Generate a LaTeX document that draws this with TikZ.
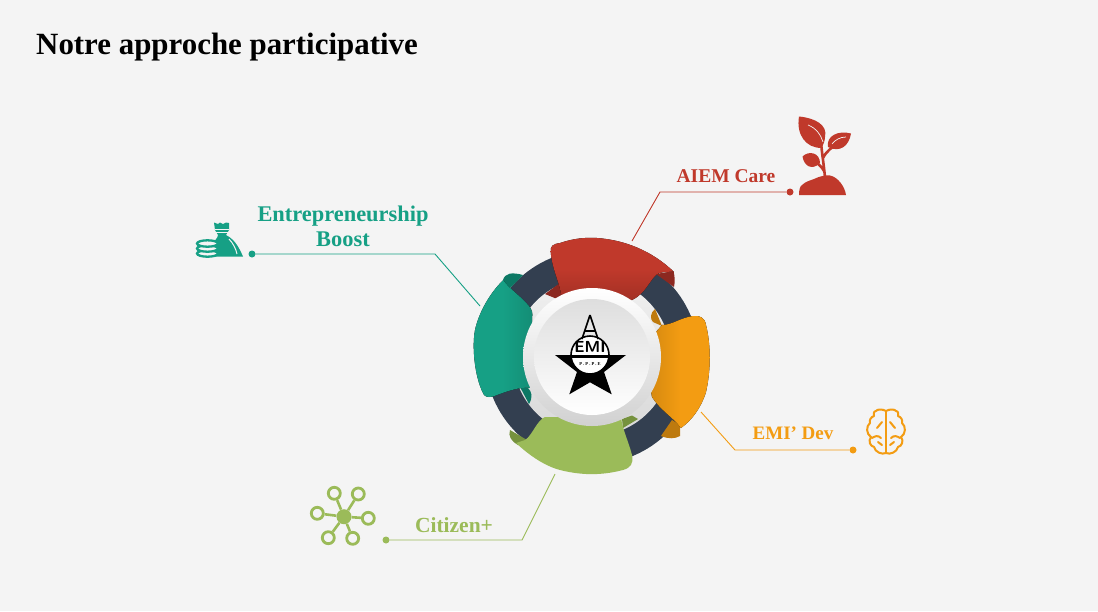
\documentclass[tikz,border=0pt]{standalone}
\usepackage{fontspec}
\setmainfont{Liberation Serif}
\usetikzlibrary{positioning,calc}
\definecolor{pagegray}{RGB}{244,244,244}
\definecolor{ringdark}{RGB}{51,63,80}
\definecolor{redmain}{RGB}{192,57,43}
\definecolor{reddark}{RGB}{140,40,32}
\definecolor{orangemain}{RGB}{243,156,18}
\definecolor{orangedark}{RGB}{190,122,14}
\definecolor{greenmain}{RGB}{155,187,89}
\definecolor{greendark}{RGB}{118,146,62}
\definecolor{tealmain}{RGB}{22,160,133}
\definecolor{tealdark}{RGB}{12,120,100}
\tikzset{
  lab/.style   = {font=\bfseries\fontsize{#1}{25}\selectfont, align=center, inner sep=0pt},
  dot/.style   = {circle, fill, minimum size=7pt, inner sep=0pt},
  lead/.style  = {line width=0.9pt},
  disc/.style  = {circle, inner sep=0pt}
}
\begin{document}
\begin{tikzpicture}[x=1pt, y=-1pt]
\useasboundingbox[fill=pagegray] (0,0) rectangle (1098,611);

\node[anchor=west, inner sep=0pt, font=\bfseries\fontsize{30.9}{36}\selectfont] (title) at (36,47) {Notre approche participative};

% --- anneau --------------------------------------------------------
\draw[ringdark, line width=29pt] (592,357) circle (92.5);
\node[disc, minimum size=158pt, top color=gray!12, bottom color=gray!30] (ringdisc) at (592,357) {};

% --- rubans ---------------------------------------------------------
% rouge
\fill[reddark] (545,294) -- (560,283) -- (562,301) -- cycle;
\fill[reddark] (656,274) -- (673.5,271) .. controls (675,277) and (675,282) .. (674,287) -- cycle;
\fill[top color=redmain, bottom color=redmain!85!black, middle color=redmain]
  (550.7,252) .. controls (550,246) and (553,244) .. (560,243)
  .. controls (575,238) and (585,237.5) .. (597,238)
  .. controls (625,240) and (652,251) .. (673.5,271.5)
  .. controls (665,272) and (660,272) .. (656.7,274.3)
  .. controls (650,280) and (645,294) .. (632,300) -- (562,300)
  .. controls (561,285) and (552,270) .. (550.7,252) -- cycle;
% orange
\fill[orangedark] (655,309) .. controls (650,313) and (650,319) .. (653,322) -- (662,326) -- cycle;
\fill[orangedark] (672,420) -- (680,425) .. controls (680,430) and (680,434) .. (680,436)
  .. controls (675,439) and (668,439) .. (661,436) -- cycle;
\fill[left color=orangemain!88!black, right color=orangemain, middle color=orangemain]
  (652,340) -- (656,332) -- (662,325) .. controls (672,325) and (680,318) .. (693,316)
  .. controls (700,315) and (705,318) .. (706,325)
  .. controls (711,345) and (711,370) .. (706,392)
  .. controls (701,408) and (692,420) .. (681,428)
  .. controls (674,418) and (660,410) .. (652,397)
  .. controls (650,390) and (652,385) .. (652,380) -- cycle;
% vert
\fill[greendark] (510,430) .. controls (508,436) and (511,441) .. (518,445) -- (527,440) -- cycle;
\fill[greendark] (622,419) -- (632,415.5) -- (638,419) -- (623,428) -- cycle;
\fill[greenmain]
  (516,443) -- (525,440) .. controls (532,436) and (537,420) .. (545,417) -- (621,417)
  .. controls (622,428) and (629,443) .. (632,455)
  .. controls (634,464) and (630,468) .. (623,470)
  .. controls (600,476) and (580,475) .. (560,470)
  .. controls (545,466) and (530,456) .. (516,443) -- cycle;
% turquoise
\fill[tealdark] (503,280) .. controls (505,273) and (512,272) .. (523,275) -- (508,290) -- cycle;
\fill[tealdark] (520,387) -- (528,388) .. controls (532,392) and (533,397) .. (529,404) -- cycle;
\fill[left color=tealmain, right color=tealmain!88!black, middle color=tealmain]
  (503.3,280) .. controls (507,287) and (522,297) .. (529,306)
  .. controls (532,310) and (533,313) .. (532,318) -- (532,388)
  .. controls (520,386) and (505,392) .. (493,396.5)
  .. controls (487,398) and (484,396) .. (483,393)
  .. controls (474,375) and (472,345) .. (475,330)
  .. controls (479,312) and (490,293) .. (503.3,280) -- cycle;

% --- disque central -------------------------------------------------
\node[disc, minimum size=138pt, top color=white, bottom color=white!82!black] (whitedisc) at (592,357) {};
\node[disc, minimum size=116pt, top color=black!13, bottom color=white] (innerdisc) at (592,357) {};

% --- logo -----------------------------------------------------------
\fill[black] (555,355) -- (626,355) -- (604,372) -- (611.7,394.3) -- (590,382.3) -- (569.3,394.3) -- (577,372) -- cycle;
\draw[black, line width=1.6pt, fill=white] (590,355) circle (19);
\fill[black] (571,355) rectangle (609,358);
\draw[black, line width=1.6pt] (590,315) -- (582,339) (590,315) -- (598,339) (585,331) -- (595,331);
\node[inner sep=0pt, font=\bfseries\sffamily\fontsize{16}{16}\selectfont] (logoname) at (590,347) {EMI};
\node[inner sep=0pt, font=\bfseries\fontsize{4.5}{5}\selectfont] (logosub) at (590,364) {P . P . P . E};

% --- legendes -------------------------------------------------------
\node[lab=19.5, text=redmain] (carelab) at (726,176) {AIEM Care};
\node[dot, fill=redmain] (caredot) at (790,192) {};
\coordinate (careend) at (632,241);
\draw[lead, redmain] (caredot) -- (660,192) -- (careend);

\node[lab=22.4, text=tealmain] (boostlab) at (343,226) {Entrepreneurship\\Boost};
\node[dot, fill=tealmain] (boostdot) at (252,254) {};
\coordinate (boostend) at (480,306);
\draw[lead, tealmain] (boostdot) -- (435,254) -- (boostend);

\node[lab=19, text=orangemain] (devlab) at (793,433) {EMI’ Dev};
\node[dot, fill=orangemain] (devdot) at (853,450) {};
\coordinate (devend) at (701,412);
\draw[lead, orangemain] (devdot) -- (735,450) -- (devend);

\node[lab=21.5, text=greenmain] (citlab) at (454,525) {Citizen+};
\node[dot, fill=greenmain] (citdot) at (386,540) {};
\coordinate (citend) at (555,474);
\draw[lead, greenmain] (citdot) -- (522,540) -- (citend);

% --- plante ---------------------------------------------------------
\fill[redmain] (799,116.5) .. controls (815,118) and (828,125) .. (825,137)
  .. controls (825,141) and (823,145) .. (821.5,148) .. controls (806,148) and (796,135) .. (799,116.5) -- cycle;
\fill[redmain] (851,133.5) .. controls (838,130) and (826,136) .. (828,147)
  .. controls (840,153) and (849,146) .. (851,133.5) -- cycle;
\fill[redmain] (802.5,156.5) .. controls (809,150) and (820,153) .. (820,163)
  .. controls (812,171) and (804,166) .. (802.5,156.5) -- cycle;
\draw[pagegray, line width=0.7pt] (808,125) .. controls (816,128) and (821,135) .. (823,142)
  (846,137) .. controls (840,137) and (835,140) .. (832,144);
\draw[redmain, line width=2.6pt] (821,142) .. controls (822,155) and (824,165) .. (825,178)
  (838,143) .. controls (833,147) and (827,150) .. (823,158)
  (808,159) .. controls (815,161) and (820,164) .. (824,171);
\fill[redmain] (799,195) .. controls (799,190) and (800,186) .. (802,185)
  .. controls (806,181) and (812,180) .. (814,179)
  .. controls (820,176) and (826,175) .. (830,175.5)
  .. controls (838,177) and (845,187) .. (846,195) -- cycle;

% --- sac ------------------------------------------------------------
\fill[tealmain] (214,222.5) -- (218,224) -- (220,222.5) -- (223,224) -- (226,222.5) -- (229,223) -- (229,230) -- (226,235)
  .. controls (236,240) and (240,250) .. (243,256.5) -- (212,256.5) -- (212,244) .. controls (214,241) and (218,238) .. (218,235) -- (215,230) -- cycle;
\draw[pagegray, line width=0.8pt] (215,229.5) -- (229,229.5) (216,232) -- (228,232);
\draw[pagegray, line width=1pt] (229,239) .. controls (233,243) and (236,249) .. (237,254);
\foreach \cy in {253.5,248.5,243.5}
  \draw[tealmain, line width=2.3pt, fill=pagegray] (207.5,\cy) ellipse (10.5 and 3.2);

% --- reseau ---------------------------------------------------------
\node[disc, fill=greenmain, minimum size=15pt] (hub) at (344,516.7) {};
\foreach \sx/\sy [count=\si] in {334.3/493.3,358.3/494,317.3/513.3,368.3/518.3,328.3/537.7,352.7/538.3} {
  \node[disc, draw=greenmain, line width=2.8pt, minimum size=12pt] (sat\si) at (\sx,\sy) {};
  \draw[greenmain, line width=2.6pt] (hub) -- (sat\si);
}

% --- cerveau --------------------------------------------------------
\draw[orangemain, line width=2pt] (886,411) -- (886,453);
\foreach \xs in {1,-1} {
  \begin{scope}[shift={(886,0)}, xscale=\xs]
    \draw[orangemain, line width=2pt, line join=round]
      (0,411) .. controls (-3,409) and (-9,409) .. (-10,411)
      .. controls (-13,411) and (-12,415) .. (-12,416) .. controls (-15,417) and (-17,420) .. (-16,423)
      .. controls (-20,426) and (-20,434) .. (-15,437) .. controls (-18,441) and (-16,446) .. (-12,447)
      .. controls (-11,452) and (-4,455) .. (0,453);
    \draw[orangemain, line width=2pt, line cap=round]
      (-4,422) -- (-9,428) (-5,438) .. controls (-8,435) and (-11,436) .. (-14,438)
      (-4,445) -- (-8,442);
  \end{scope}
}
\end{tikzpicture}
\end{document}
